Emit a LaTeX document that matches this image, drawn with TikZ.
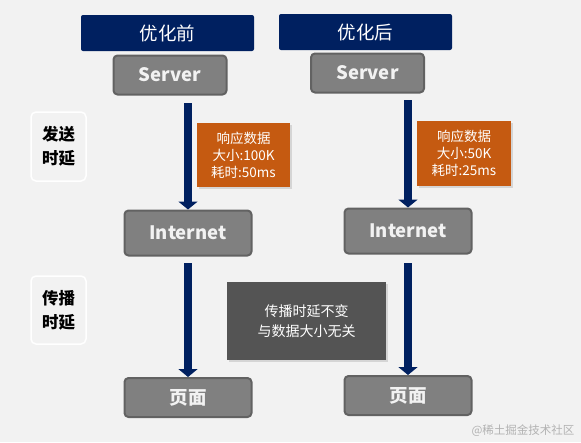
\documentclass[tikz,border=0pt]{standalone}
\usepackage{fontspec}
\setmainfont{Noto Sans CJK SC}
\usetikzlibrary{shadows,arrows.meta}
\definecolor{bg}{HTML}{F2F2F2}
\definecolor{navy}{HTML}{002060}
\definecolor{boxg}{HTML}{808080}
\definecolor{boxb}{HTML}{626262}
\definecolor{orng}{HTML}{C55A11}
\definecolor{dark}{HTML}{545454}
\begin{document}
\begin{tikzpicture}[x=1pt,y=-1pt,
  hdr/.style={fill=navy,rounded corners=2pt},
  hdrtxt/.style={text=white,font=\fontsize{18.5}{18.5}\selectfont},
  gbox/.style={fill=boxg,draw=boxb,line width=2pt,rounded corners=4pt,text=bg,font=\fontsize{18.5}{18.5}\selectfont\bfseries},
  obox/.style={fill=orng,text=white,align=center,font=\fontsize{13.5}{17}\selectfont,drop shadow={shadow xshift=1.5pt,shadow yshift=-2pt,opacity=0.25}},
  lbl/.style={draw=white,line width=1.5pt,rounded corners=5pt},
  lbltxt/.style={align=center,font=\fontsize{16.5}{24}\selectfont\bfseries},
  arr/.style={draw=navy,line width=8pt,-{Triangle[width=19pt,length=8pt]}}]
\fill[bg] (0,0) rectangle (581,442);
\useasboundingbox (0,0) rectangle (581,442);
% headers
\path[hdr] (81,15) rectangle (254,51);
\node[hdrtxt] (h1) at (167.5,33) {优化前};
\path[hdr] (279,14) rectangle (452,50);
\node[hdrtxt] (h2) at (365.5,32) {优化后};
% left labels
\path[lbl] (31,112) rectangle (86,181);
\node[lbltxt] (l1) at (58.5,146.5) {发送\\时延};
\path[lbl] (31,276) rectangle (86,344);
\node[lbltxt] (l2) at (58.5,310) {传播\\时延};
% gray boxes
\node[gbox,minimum width=113pt,minimum height=39pt] (s1) at (170,75) {Server};
\node[gbox,minimum width=113pt,minimum height=39pt] (s2) at (367.5,73) {Server};
\node[gbox,minimum width=127pt,minimum height=45pt] (i1) at (188,233) {Internet};
\node[gbox,minimum width=127pt,minimum height=45pt] (i2) at (408,231) {Internet};
\node[gbox,minimum width=127pt,minimum height=39pt] (p1) at (188,397.5) {页面};
\node[gbox,minimum width=127pt,minimum height=39pt] (p2) at (408,395.5) {页面};
% arrows
\coordinate (a1) at (188,103);
\coordinate (a2) at (408,100);
\coordinate (b1) at (188,263);
\coordinate (b2) at (408,263);
\draw[arr] (a1) -- (i1.north);
\draw[arr] (a2) -- (i2.north);
\draw[arr] (b1) -- (p1.north);
\draw[arr] (b2) -- (p2.north);
% orange boxes
\node[obox,minimum width=93pt,minimum height=64pt,inner sep=1pt] (o1) at (243.5,155) {响应数据\\大小:100K\\耗时:50ms};
\node[obox,minimum width=94pt,minimum height=65pt,inner sep=1pt] (o2) at (464,153.5) {响应数据\\大小:50K\\耗时:25ms};
% dark box
\node[fill=dark,text=white,align=center,minimum width=159pt,minimum height=78pt,font=\fontsize{14}{20}\selectfont,drop shadow={shadow xshift=1.5pt,shadow yshift=-2pt,opacity=0.25}] (d) at (306.5,321) {传播时延不变\\与数据大小无关};
% watermark
\node[anchor=east,text=black!30,font=\fontsize{11.5}{11.5}\selectfont] (w) at (578,431) {@稀土掘金技术社区};
\end{tikzpicture}
\end{document}
